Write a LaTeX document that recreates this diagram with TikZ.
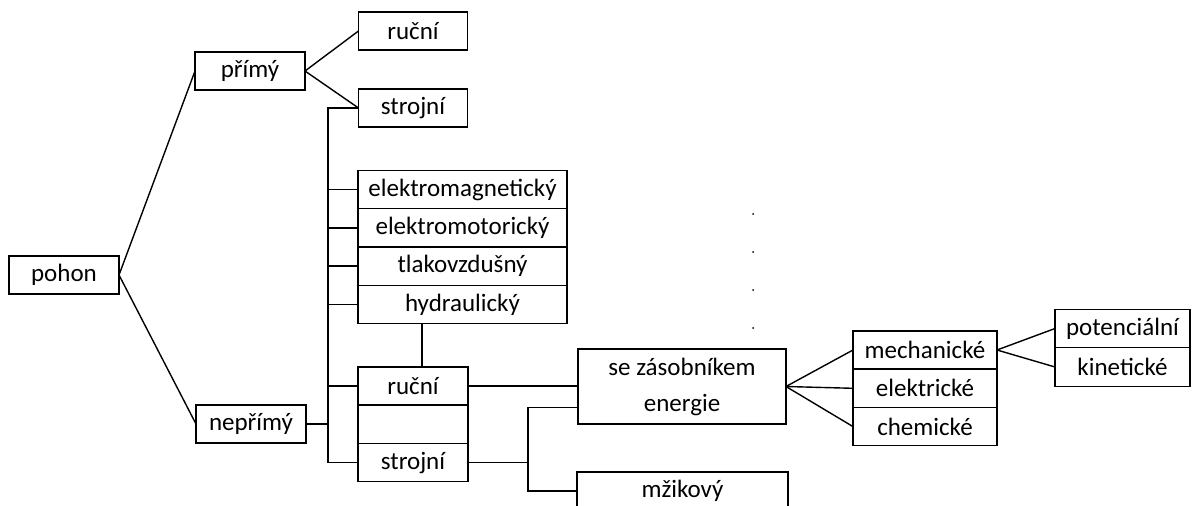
\documentclass[tikz,border=0pt]{standalone}
\usepackage{fontspec}
\setmainfont{Carlito}
\usetikzlibrary{positioning}
\tikzset{
  box/.style={draw, line width=1.4pt, outer sep=0pt, inner sep=0pt,
    minimum height=38.3pt, font=\fontsize{25}{30}\selectfont},
}

\begin{document}
\begin{tikzpicture}[x=1pt, y=-1pt, line width=1.4pt]
      \clip (0,0) rectangle (1192,506);
      \fill[white] (0,0) rectangle (1192,506);
      % left part
      \node[box, minimum width=110pt] (pohon) at (64,275) {pohon};
      \node[box, minimum width=110pt] (primy) at (250,71) {přímý};
      \node[box, minimum width=110pt] (neprimy) at (251,424) {nepřímý};
      \node[box, minimum width=109pt] (rucniA) at (413,31) {ruční};
      \node[box, minimum width=109pt] (strojniA) at (413,108) {strojní};
      % stacks
      \node[box, minimum width=209pt] (emag) at (462.5,189.5) {elektromagnetický};
      \node[box, minimum width=209pt, below=0pt of emag] (emot) {elektromotorický};
      \node[box, minimum width=209pt, below=0pt of emot] (tlak) {tlakovzdušný};
      \node[box, minimum width=209pt, below=0pt of tlak] (hydr) {hydraulický};
      \node[box, minimum width=110pt] (rucniB) at (413,386) {ruční};
      \node[box, minimum width=110pt, below=0pt of rucniB] (prazdny) {};
      \node[box, minimum width=110pt, below=0pt of prazdny] (strojniB) {strojní};
      \node[box, minimum width=208pt, minimum height=75pt, align=center,
        font=\fontsize{25}{36}\selectfont] (zasob) at (682,386.5) {se zásobníkem\\energie};
      \node[box, minimum width=211pt] (mzik) at (682.5,491) {mžikový};
      \node[box, minimum width=144pt] (mech) at (925,350) {mechanické};
      \node[box, minimum width=144pt, below=0pt of mech] (elek) {elektrické};
      \node[box, minimum width=144pt, below=0pt of elek] (chem) {chemické};
      \node[box, minimum width=135pt, minimum height=38.5pt] (pot) at (1122.5,328.5) {potenciální};
      \node[box, minimum width=135pt, minimum height=38.5pt, below=0pt of pot] (kin) {kinetické};
      % connectors
      \draw (pohon.east) -- (primy.west);
      \draw (pohon.east) -- (neprimy.west);
      \draw (primy.east) -- (rucniA.west);
      \draw (primy.east) -- (strojniA.west);
      \coordinate (bus) at (328,0);
      \draw (strojniA.west) -- (bus |- strojniA.west) -- (bus |- strojniB.west) -- (strojniB.west);
      \draw (neprimy.east) -- (bus |- neprimy.east);
      \foreach \n in {emag,emot,tlak,hydr,rucniB}
        \draw (bus |- \n.west) -- (\n.west);
      \draw ([xshift=9pt]rucniB.north) -- ([xshift=9pt]rucniB.north |- hydr.south);
      \draw (rucniB.east) -- (zasob.west |- rucniB.east);
      \coordinate (split) at (528,0);
      \coordinate (zasobIn) at ([yshift=-21pt]zasob.west);
      \draw (strojniB.east) -- (split |- strojniB.east);
      \draw (zasobIn) -- (split |- zasobIn) -- (split |- mzik.west) -- (mzik.west);
      \foreach \n in {mech,elek,chem}
        \draw (zasob.east) -- (\n.west);
      \draw (mech.east) -- (pot.west);
      \draw (mech.east) -- (kin.west);
      % dots
      \foreach \y in {214,252,290,328}
        \fill (753,\y) circle (1pt);
    \end{tikzpicture}
\end{document}
